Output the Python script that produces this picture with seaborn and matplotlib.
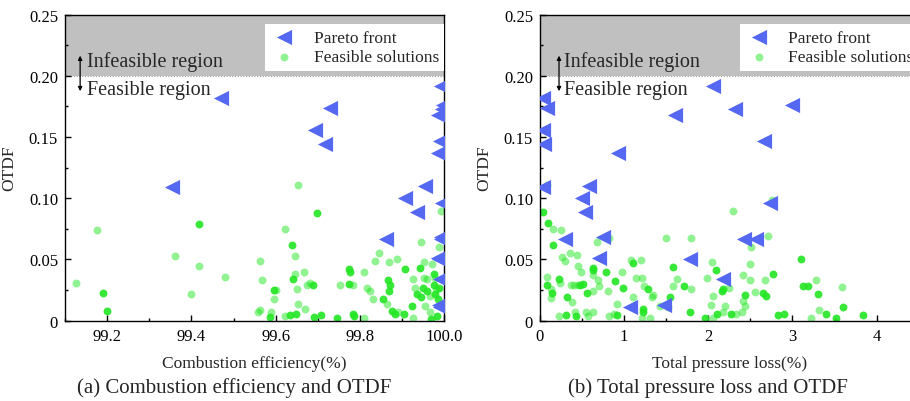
import numpy as np
import pandas as pd
import matplotlib
matplotlib.use("Agg")
import matplotlib.pyplot as plt
import seaborn as sns
from matplotlib.ticker import MultipleLocator, FuncFormatter

sns.set_theme(style="white")
plt.rcParams["font.family"] = ["Liberation Serif", "DejaVu Serif"]

# ---- Pareto-optimal designs (shared by both panels) ----
pareto_eff = [99.993, 99.470, 99.998, 99.729, 99.994, 99.985, 99.694, 99.990,
              99.718, 99.986, 99.955, 99.354, 99.908, 99.995, 99.936, 99.993,
              99.862, 99.992, 99.994, 99.985, 99.988, 99.990, 99.988, 99.989]
pareto_loss = [2.06, 0.04, 2.99, 0.087, 2.32, 1.60, 0.04, 2.66,
               0.05, 0.93, 0.58, 0.03, 0.50, 2.73, 0.53, 0.75,
               0.30, 2.42, 2.57, 0.70, 1.78, 2.18, 1.47, 1.07]
pareto_otdf = [0.192, 0.182, 0.176, 0.174, 0.173, 0.168, 0.156, 0.147,
               0.144, 0.137, 0.110, 0.109, 0.100, 0.096, 0.089, 0.068,
               0.067, 0.067, 0.067, 0.051, 0.050, 0.034, 0.013, 0.0115]

# ---- Feasible solutions: combustion efficiency vs OTDF (dense = overlapping samples) ----
feas_eff = [99.126, 99.177, 99.19, 99.20, 99.362, 99.417, 99.419, 99.399, 99.48, 99.563,
            99.567, 99.559, 99.562, 99.589, 99.587, 99.595, 99.60, 99.596, 99.622, 99.638,
            99.646, 99.646, 99.641, 99.65, 99.652, 99.654, 99.634, 99.623, 99.649, 99.668,
            99.682, 99.688, 99.674, 99.67, 99.69, 99.698, 99.708, 99.745, 99.753, 99.773,
            99.777, 99.775, 99.783, 99.783, 99.786, 99.809, 99.817, 99.823, 99.832, 99.836,
            99.844, 99.809, 99.855, 99.864, 99.866, 99.872, 99.868, 99.868, 99.876, 99.884,
            99.888, 99.89, 99.908, 99.905, 99.923, 99.926, 99.927, 99.931, 99.935, 99.942,
            99.945, 99.945, 99.95, 99.951, 99.953, 99.955, 99.959, 99.96, 99.967, 99.969,
            99.975, 99.975, 99.979, 99.98, 99.971, 99.983, 99.987, 99.992, 99.985, 99.988,
            99.978, 99.965]
feas_otdf_a = [0.031, 0.074, 0.0226, 0.0077, 0.053, 0.079, 0.045, 0.022, 0.036, 0.049,
               0.033, 0.0074, 0.0085, 0.0069, 0.003, 0.025, 0.025, 0.018, 0.075, 0.062,
               0.053, 0.038, 0.034, 0.026, 0.014, 0.111, 0.0047, 0.0036, 0.0055, 0.040,
               0.031, 0.029, 0.029, 0.0096, 0.003, 0.088, 0.0047, 0.002, 0.029, 0.042,
               0.040, 0.030, 0.029, 0.0055, 0.004, 0.040, 0.027, 0.0245, 0.018, 0.049,
               0.055, 0.002, 0.018, 0.0137, 0.033, 0.029, 0.0245, 0.048, 0.008, 0.0055,
               0.050, 0.007, 0.042, 0.0055, 0.012, 0.002, 0.034, 0.027, 0.022, 0.043,
               0.0645, 0.019, 0.027, 0.048, 0.035, 0.012, 0.0245, 0.034, 0.0069, 0.0014,
               0.038, 0.029, 0.022, 0.026, 0.046, 0.004, 0.060, 0.0896, 0.018, 0.027,
               0.035, 0.020]
dense_a = [0, 0, 1, 1, 0, 1, 0, 0, 0, 0,
           0, 0, 0, 0, 1, 1, 0, 0, 0, 1,
           0, 0, 1, 0, 0, 0, 1, 0, 1, 0,
           0, 1, 0, 0, 1, 1, 1, 1, 0, 1,
           1, 1, 0, 1, 1, 0, 0, 0, 0, 0,
           0, 0, 1, 0, 1, 1, 1, 0, 1, 1,
           0, 0, 1, 1, 1, 0, 0, 0, 1, 1,
           0, 1, 1, 0, 0, 0, 1, 0, 0, 1,
           1, 1, 1, 0, 0, 1, 0, 0, 1, 1,
           0, 0]

# ---- Feasible solutions: total pressure loss vs OTDF ----
feas_loss = [0.032, 0.079, 0.099, 0.151, 0.249, 0.158, 0.087, 0.087, 0.131, 0.139,
             0.127, 0.229, 0.235, 0.229, 0.258, 0.297, 0.324, 0.309, 0.356, 0.365,
             0.376, 0.416, 0.428, 0.436, 0.455, 0.483, 0.455, 0.40, 0.475, 0.507,
             0.562, 0.546, 0.574, 0.626, 0.626, 0.633, 0.626, 0.633, 0.673, 0.693,
             0.705, 0.784, 0.824, 0.812, 0.824, 0.891, 0.879, 0.918, 0.918, 0.970,
             0.990, 1.077, 1.108, 1.100, 1.140, 1.207, 1.195, 1.235, 1.220, 1.222,
             1.207, 1.286, 1.326, 1.34, 1.306, 1.425, 1.497, 1.544, 1.52, 1.576,
             1.576, 1.631, 1.710, 1.790, 1.790, 1.781, 1.960, 1.987, 2.027, 2.039,
             2.051, 2.06, 2.090, 2.106, 2.157, 2.17, 2.197, 2.18, 2.248, 2.264,
             2.296, 2.33, 2.395, 2.414, 2.434, 2.414, 2.434, 2.494, 2.494, 2.502,
             2.553, 2.645, 2.684, 2.672, 2.712, 2.752, 2.764, 2.831, 2.898, 3.096,
             3.120, 3.187, 3.215, 3.278, 3.305, 3.317, 3.397, 3.515, 3.583, 3.602,
             3.840]
feas_otdf_b = [0.0886, 0.111, 0.0796, 0.075, 0.074, 0.0618, 0.036, 0.029, 0.026, 0.023,
               0.0185, 0.034, 0.031, 0.0036, 0.052, 0.049, 0.019, 0.0047, 0.0553, 0.029,
               0.015, 0.0069, 0.0036, 0.0537, 0.045, 0.0395, 0.029, 0.029, 0.029, 0.030,
               0.0226, 0.0069, 0.0036, 0.0428, 0.041, 0.037, 0.0245, 0.0069, 0.0645, 0.0333,
               0.0286, 0.040, 0.0673, 0.0245, 0.0036, 0.0327, 0.0055, 0.0136, 0.0044, 0.040,
               0.0267, 0.0498, 0.047, 0.019, 0.0346, 0.0346, 0.0498, 0.028, 0.0096, 0.007,
               0.002, 0.0259, 0.019, 0.021, 0.002, 0.0123, 0.0673, 0.019, 0.011, 0.0436,
               0.028, 0.034, 0.0286, 0.0673, 0.0259, 0.0074, 0.002, 0.0346, 0.0128, 0.048,
               0.0204, 0.002, 0.0417, 0.0055, 0.0245, 0.026, 0.0123, 0.0074, 0.0265, 0.0055,
               0.0894, 0.0055, 0.0069, 0.0373, 0.021, 0.016, 0.012, 0.0463, 0.0335, 0.060,
               0.0237, 0.023, 0.0204, 0.0335, 0.0694, 0.0989, 0.038, 0.0047, 0.0055, 0.0504,
               0.0286, 0.0286, 0.002, 0.0335, 0.0218, 0.009, 0.0055, 0.0022, 0.0273, 0.0114,
               0.0047]
dense_b = [1, 0, 1, 0, 0, 1, 0, 1, 0, 1,
           0, 1, 0, 0, 0, 0, 1, 1, 0, 0,
           0, 0, 1, 0, 0, 0, 0, 0, 1, 1,
           1, 0, 0, 1, 1, 0, 0, 0, 0, 0,
           0, 1, 0, 0, 0, 1, 0, 0, 1, 0,
           1, 0, 1, 0, 0, 0, 0, 0, 1, 1,
           0, 1, 0, 0, 0, 0, 0, 1, 0, 1,
           0, 0, 1, 0, 0, 1, 1, 0, 0, 0,
           0, 0, 1, 1, 1, 1, 0, 0, 0, 1,
           0, 0, 0, 0, 1, 0, 0, 0, 0, 0,
           0, 1, 1, 0, 0, 0, 1, 1, 1, 1,
           1, 1, 0, 0, 1, 0, 1, 1, 0, 1,
           1]

pareto = pd.DataFrame({"eff": pareto_eff, "loss": pareto_loss, "otdf": pareto_otdf})
feas_a = pd.DataFrame({"x": feas_eff, "otdf": feas_otdf_a, "dense": dense_a})
feas_b = pd.DataFrame({"x": feas_loss, "otdf": feas_otdf_b, "dense": dense_b})

BLUE = "#5568f2"
GREEN = "#22e622"
GRAY = "#c0c0c0"

fig = plt.figure(figsize=(9.1, 4.02), dpi=100)
ax1 = fig.add_axes([0.0714, 0.1998, 0.4168, 0.7612])
ax2 = fig.add_axes([0.5934, 0.1998, 0.4162, 0.7612])


def draw_panel(ax, feas, xcol, xlabel, xlim, xmajor, xminor, xfmt, arrow_x, text_x):
    ax.set_xlim(*xlim)
    ax.set_ylim(0, 0.25)
    ax.axhspan(0.20, 0.25, color=GRAY, lw=0, zorder=0)
    ax.axhline(0.20, color="#9c9c9c", lw=0.8, ls=(0, (1, 1.5)), zorder=0.5)

    light = feas[feas["dense"] == 0]
    dark = feas[feas["dense"] == 1]
    sns.scatterplot(data=light, x="x", y="otdf", ax=ax, color=GREEN, alpha=0.5,
                    s=32, linewidth=0, zorder=2, label="Feasible solutions")
    sns.scatterplot(data=dark, x="x", y="otdf", ax=ax, color=GREEN, alpha=0.9,
                    s=32, linewidth=0, zorder=2, legend=False)
    sns.scatterplot(data=pareto, x=xcol, y="otdf", ax=ax, color=BLUE, marker="<",
                    s=120, linewidth=0, zorder=3, label="Pareto front")

    handles, labels = ax.get_legend_handles_labels()
    order = [labels.index("Pareto front"), labels.index("Feasible solutions")]
    ax.legend([handles[i] for i in order], [labels[i] for i in order],
              loc="upper right", bbox_to_anchor=(1.0, 0.968), borderaxespad=0,
              frameon=True, fancybox=False, facecolor="white", edgecolor="none",
              framealpha=1, fontsize=12.5, handletextpad=0.9, borderpad=0.3,
              labelspacing=0.2, handlelength=1.6)

    # feasibility boundary annotation
    ax.annotate("", xy=(arrow_x, 0.2165), xytext=(arrow_x, 0.1875),
                arrowprops=dict(arrowstyle="<|-|>", color="black", lw=0.9,
                                mutation_scale=6, shrinkA=0, shrinkB=0))
    ax.text(text_x, 0.2125, "Infeasible region", fontsize=14.5, va="center", ha="left")
    ax.text(text_x, 0.1885, "Feasible region", fontsize=14.5, va="center", ha="left")

    ax.xaxis.set_major_locator(MultipleLocator(xmajor))
    ax.xaxis.set_minor_locator(MultipleLocator(xminor))
    ax.xaxis.set_major_formatter(FuncFormatter(xfmt))
    ax.yaxis.set_major_locator(MultipleLocator(0.05))
    ax.yaxis.set_minor_locator(MultipleLocator(0.025))
    ax.yaxis.set_major_formatter(FuncFormatter(lambda v, _: "0" if abs(v) < 1e-9 else f"{v:.2f}"))
    ax.tick_params(which="both", direction="in", colors="black", width=1,
                   bottom=True, left=True, top=False, right=False)
    ax.tick_params(which="major", length=4.5, labelsize=12, pad=5)
    ax.tick_params(which="minor", length=2.5)
    for sp in ax.spines.values():
        sp.set_color("black")
        sp.set_linewidth(1.0)
    ax.set_xlabel(xlabel, fontsize=12.5, labelpad=8)
    ax.set_ylabel("OTDF", fontsize=12.5, labelpad=8)


draw_panel(ax1, feas_a, "eff", "Combustion efficiency(%)", (99.1, 100.0), 0.2, 0.1,
           lambda v, _: f"{v:.1f}", 99.136, 99.152)
draw_panel(ax2, feas_b, "loss", "Total pressure loss(%)", (0, 4.5), 1, 0.5,
           lambda v, _: f"{v:.0f}", 0.226, 0.28)

fig.text(234.5 / 910, 1 - 388 / 402, "(a) Combustion efficiency and OTDF",
         ha="center", va="center", fontsize=15)
fig.text(708 / 910, 1 - 388 / 402, "(b) Total pressure loss and OTDF",
         ha="center", va="center", fontsize=15)

fig.savefig("out.png", dpi=100)
